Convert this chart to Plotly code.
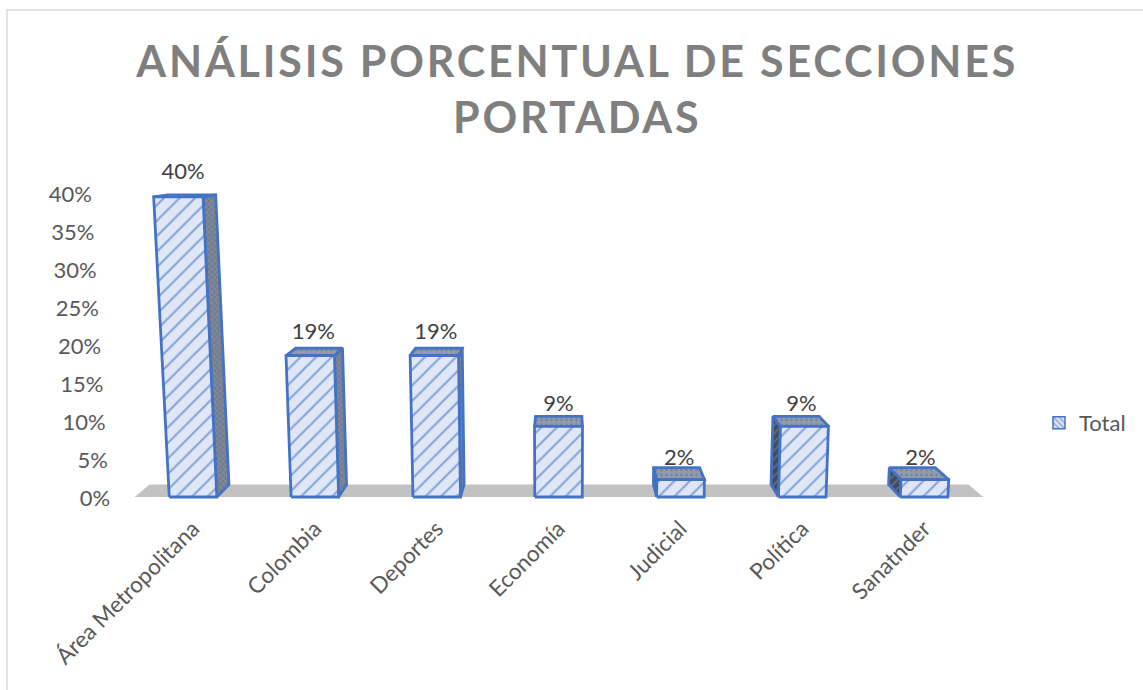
import plotly.graph_objects as go

title_text = "ANÁLISIS PORCENTUAL DE SECCIONES<br>PORTADAS"
categories = ["Área Metropolitana", "Colombia", "Deportes", "Economía", "Judicial", "Política", "Sanatnder"]
values = [39.5, 18.6, 18.6, 9.3, 2.3, 9.3, 2.3]
value_labels = ["40%", "19%", "19%", "9%", "2%", "9%", "2%"]
y_ticks = [0, 5, 10, 15, 20, 25, 30, 35, 40]
series_name = "Total"

# Page geometry and the 3-D projection used to draw the Excel-style columns
W, H = 1143, 690
X_RANGE = (-1.1, 6.5)
Y_RANGE = (-1.0, 46.0)
X_DOM = (59 / W, 985 / W)
Y_DOM = ((H - 504.6) / H, (H - 147.4) / H)
HALF_W = 0.195
CX, VP_X, VP_Y, DEPTH, LEAN = 3.05, 3.05, 47.0, 0.035, 0.001
FLOOR_L, FLOOR_R = -0.48, 6.485
TICK_X, TICK_DY, LABEL_BLEND = -0.68, 0.4, 0.35

BLUE = "#4472c4"
TEXT = "#595959"
FONT = "Lato"


def lean(x, v):
    return CX + (x - CX) * (1 + LEAN * v), v


def back(x, v):
    return x + DEPTH * (VP_X - x), v + DEPTH * (VP_Y - v)


def poly(pts, fillpattern):
    xs = [p[0] for p in pts] + [pts[0][0]]
    ys = [p[1] for p in pts] + [pts[0][1]]
    return go.Scatter(
        x=xs, y=ys, mode="lines", fill="toself", fillcolor="rgba(0,0,0,0)",
        fillpattern=fillpattern,
        line=dict(color=BLUE, width=2.8),
        showlegend=False, hoverinfo="skip", cliponaxis=False,
    )


front_pat = dict(shape="/", size=11, solidity=0.2, fgcolor="#2f5fc0", bgcolor="#dfe7f6", fillmode="overlay")
top_pat = dict(shape=".", size=5, solidity=0.3, fgcolor="#5f6f8c", bgcolor="#929cae", fillmode="overlay")
right_pat = dict(shape="x", size=4, solidity=0.3, fgcolor="#4d586b", bgcolor="#7f8898", fillmode="overlay")
left_pat = dict(shape="/", size=6, solidity=0.3, fgcolor="#7f8ea8", bgcolor="#3f4b60", fillmode="overlay")

fig = go.Figure()

# Floor
floor = [(FLOOR_L, 0), (FLOOR_R, 0), back(FLOOR_R, 0), back(FLOOR_L, 0)]
fig.add_trace(go.Scatter(
    x=[p[0] for p in floor] + [FLOOR_L], y=[p[1] for p in floor] + [0], mode="lines",
    fill="toself", fillcolor="#c2c2c2", line=dict(width=0),
    showlegend=False, hoverinfo="skip", cliponaxis=False,
))

label_x, label_y = [], []
for i, v in enumerate(values):
    l, r = i - HALF_W, i + HALF_W
    bl, br = lean(l, 0), lean(r, 0)
    tl, tr = lean(l, v), lean(r, v)
    if r < VP_X:
        fig.add_trace(poly([br, tr, back(*tr), back(*br)], right_pat))
    if l > VP_X:
        fig.add_trace(poly([bl, tl, back(*tl), back(*bl)], left_pat))
    fig.add_trace(poly([tl, tr, back(*tr), back(*tl)], top_pat))
    fig.add_trace(poly([bl, br, tr, tl], front_pat))
    mid = (tl[0] + tr[0]) / 2
    label_x.append(mid + LABEL_BLEND * (back(mid, v)[0] - mid))
    label_y.append(v * 1.012 + 1.2)

# Data labels
fig.add_trace(go.Scatter(
    x=label_x, y=label_y, mode="text", text=value_labels, textposition="top center",
    textfont=dict(family=FONT, size=22, color="#404040"),
    showlegend=False, hoverinfo="skip", cliponaxis=False,
))

# Value axis labels follow the same perspective lean as the columns
tick_pos = [lean(TICK_X, t) for t in y_ticks]
fig.add_trace(go.Scatter(
    x=[p[0] for p in tick_pos], y=[p[1] - TICK_DY for p in tick_pos], mode="text",
    text=[f"{t}%" for t in y_ticks], textposition="middle left",
    textfont=dict(family=FONT, size=22, color=TEXT),
    showlegend=False, hoverinfo="skip", cliponaxis=False,
))

# Legend entry
fig.add_trace(go.Bar(
    x=[0], y=[None], name=series_name, showlegend=True,
    marker=dict(color="#dfe7f6", line=dict(color=BLUE, width=1.5),
                pattern=dict(shape="\\", size=5, solidity=0.4, fgcolor=BLUE, bgcolor="#dfe7f6")),
))

fig.update_layout(
    width=W, height=H,
    margin=dict(l=0, r=0, t=0, b=0, autoexpand=False),
    paper_bgcolor="white", plot_bgcolor="white",
    font=dict(family=FONT, color=TEXT),
    title=dict(
        text=title_text, x=0.505, xanchor="center", y=1 - 77 / H, yanchor="top",
        font=dict(family=FONT, size=43, color="#7f7f7f", weight=700),
    ),
    xaxis=dict(
        domain=X_DOM, range=X_RANGE, tickmode="array", tickvals=list(range(len(categories))),
        ticktext=categories, tickangle=-45, ticks="outside", ticklen=1, tickcolor="rgba(0,0,0,0)",
        showgrid=False, zeroline=False, showline=False,
        tickfont=dict(family=FONT, size=22.5, color=TEXT),
    ),
    yaxis=dict(
        domain=Y_DOM, range=Y_RANGE, showticklabels=False, ticks="",
        showgrid=False, zeroline=False, showline=False,
    ),
    legend=dict(x=1039 / W, y=1 - 423 / H, xanchor="left", yanchor="middle",
                font=dict(family=FONT, size=22, color=TEXT), bgcolor="rgba(0,0,0,0)"),
    shapes=[dict(type="path", xref="paper", yref="paper",
                 path=f"M {7 / W},0 L {7 / W},{1 - 10 / H} L 1,{1 - 10 / H}",
                 line=dict(color="#d9d9d9", width=1.5), layer="below")],
)

post = """
document.body.style.margin='0';
var gd=document.querySelector('.plotly-graph-div');
function sp(){document.querySelectorAll('.gtitle').forEach(function(t){t.style.letterSpacing='2.8px';});}
sp(); if(gd&&gd.on){gd.on('plotly_afterplot',sp);}
"""
fig.write_html("out.html", post_script=post, config={"displayModeBar": False})
